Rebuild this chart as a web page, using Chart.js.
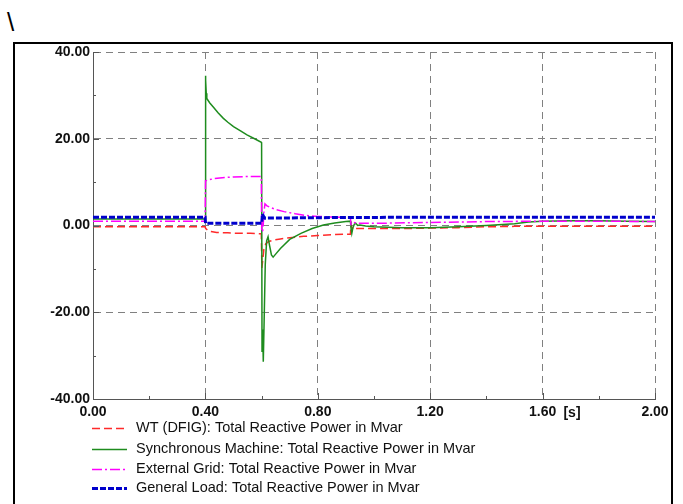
<!DOCTYPE html>
<html><head><meta charset="utf-8">
<script src="https://cdn.jsdelivr.net/npm/chart.js@4.4.1/dist/chart.umd.min.js"></script>
<style>
html,body{margin:0;padding:0;background:#fff;width:683px;height:504px;overflow:hidden;}
#wrap{position:relative;width:683px;height:504px;}
canvas{position:absolute;left:0;top:0;}
#frame{position:absolute;left:13px;top:42px;width:660px;height:480px;border:2px solid #000;box-sizing:border-box;pointer-events:none;}
#slash{position:absolute;left:7px;top:7px;font:26px "Liberation Sans",Arial,sans-serif;color:#000;line-height:30px;}
</style></head><body>
<div id="wrap"><div id="slash">\</div><div id="frame"></div><canvas id="c" width="683" height="504"></canvas></div>
<script>
// ---- data (time in s, reactive power in Mvar) ----
const seriesLabels = [
  "WT (DFIG): Total Reactive Power in Mvar",
  "Synchronous Machine: Total Reactive Power in Mvar",
  "External Grid: Total Reactive Power in Mvar",
  "General Load: Total Reactive Power in Mvar"
];
const xTicks = [0, 0.4, 0.8, 1.2, 1.6, 2.0];
const yTicks = [-40, -20, 0, 20, 40];
const xMinor = [0.2, 0.6, 1.0, 1.4, 1.8];
const yMinor = [-30, -10, 10, 30];
const unitLabel = "[s]";

const wtTime = [0, 0.399, 0.401, 0.405, 0.412, 0.42, 0.44, 0.48, 0.52, 0.56, 0.599, 0.601, 0.604, 0.608, 0.615, 0.625, 0.64, 0.667, 0.70, 0.75, 0.80, 0.85, 0.90, 0.916, 0.918, 0.922, 0.927, 0.935, 0.95, 1.0, 1.1, 1.2, 1.3, 1.4, 1.5, 1.6, 1.8, 2.0];
const wtQ    = [-0.3, -0.3, -0.7, -0.9, -1.2, -1.4, -1.6, -1.7, -1.8, -1.8, -1.9, -9.8, -8.0, -5.5, -4.2, -3.7, -3.4, -3.1, -2.8, -2.5, -2.3, -2.1, -2.0, -2.0, 0.3, -0.8, -0.3, -0.7, -0.7, -0.7, -0.7, -0.6, -0.5, -0.3, -0.2, -0.2, -0.2, -0.2];

const smTime = [0, 0.3995, 0.4, 0.4015, 0.403, 0.405, 0.415, 0.428, 0.445, 0.464, 0.48, 0.50, 0.525, 0.548, 0.575, 0.599, 0.6, 0.6015, 0.603, 0.6045, 0.606, 0.609, 0.613, 0.618, 0.623, 0.628, 0.635, 0.641, 0.65, 0.667, 0.70, 0.74, 0.78, 0.82, 0.86, 0.90, 0.916, 0.918, 0.921, 0.925, 0.93, 0.935, 0.942, 0.95, 0.97, 1.0, 1.1, 1.2, 1.3, 1.4, 1.5, 1.55, 1.6, 1.7, 1.8, 1.9, 2.0];
const smQ    = [1.5, 1.5, 34.5, 33.5, 30.5, 29.3, 28.3, 27.3, 26.0, 24.7, 23.8, 22.8, 21.8, 20.9, 20.0, 19.2, 19.0, -29, -26, -24, -31.4, -22, -9, -3.5, -2.6, -4.5, -6.8, -7.3, -6.6, -5.3, -3.2, -1.8, -0.7, 0.1, 0.6, 0.9, 1.0, -0.5, -1.8, -0.5, 0.3, 0.5, 0.0, 0.1, -0.1, -0.3, -0.5, -0.5, -0.3, 0.0, 0.4, 0.8, 1.0, 1.1, 1.1, 1.0, 0.9];

const egTime = [0, 0.399, 0.4005, 0.41, 0.43, 0.46, 0.50, 0.55, 0.599, 0.6005, 0.605, 0.608, 0.612, 0.618, 0.63, 0.65, 0.68, 0.72, 0.76, 0.80, 0.85, 0.90, 0.916, 0.918, 0.925, 0.94, 1.0, 1.2, 1.4, 1.6, 1.8, 2.0];
const egQ    = [1.0, 1.0, 10.3, 10.5, 10.8, 11.0, 11.2, 11.3, 11.3, -1.5, -1.0, 3.0, 5.0, 4.6, 4.2, 3.7, 3.2, 2.7, 2.3, 2.1, 1.95, 1.85, 1.8, 0.3, 0.8, 0.5, 0.5, 0.7, 0.9, 1.0, 1.0, 0.9];

const glTime = [0, 0.399, 0.4005, 0.599, 0.6005, 0.603, 0.606, 0.612, 0.62, 0.7, 0.9, 1.2, 1.6, 2.0];
const glQ    = [1.9, 1.9, 0.5, 0.5, 0.5, 2.7, 2.2, 1.7, 1.7, 1.75, 1.85, 1.9, 1.9, 1.9];

function pts(t, v) { return t.map((x, i) => ({ x: x, y: v[i] })); }

const FONT = '"Liberation Sans", Arial, sans-serif';
const legendRows = [428, 448.5, 469, 488];

const extras = {
  id: 'extras',
  afterDraw(chart) {
    const ctx = chart.ctx, xs = chart.scales.x, ys = chart.scales.y, a = chart.chartArea;
    ctx.save();
    ctx.strokeStyle = '#555'; ctx.lineWidth = 1; ctx.setLineDash([]);
    ctx.beginPath();
    xMinor.forEach(v => { const px = Math.round(xs.getPixelForValue(v)) + 0.5; ctx.moveTo(px, a.bottom); ctx.lineTo(px, a.bottom - 3); });
    xTicks.forEach(v => { const px = Math.round(xs.getPixelForValue(v)) + 0.5; ctx.moveTo(px, a.bottom); ctx.lineTo(px, a.bottom - 6); });
    yMinor.forEach(v => { const py = Math.round(ys.getPixelForValue(v)) + 0.5; ctx.moveTo(a.left, py); ctx.lineTo(a.left + 3, py); });
    yTicks.forEach(v => { const py = Math.round(ys.getPixelForValue(v)) + 0.5; ctx.moveTo(a.left, py); ctx.lineTo(a.left + 6, py); });
    ctx.stroke();
    ctx.fillStyle = '#111'; ctx.font = 'bold 14px ' + FONT; ctx.textAlign = 'center'; ctx.textBaseline = 'middle';
    ctx.fillText(unitLabel, a.right - 83, 413);
    chart.data.datasets.forEach((ds, i) => {
      const y = legendRows[i];
      ctx.strokeStyle = ds.borderColor; ctx.lineWidth = ds.borderWidth; ctx.setLineDash(ds.borderDash || []);
      ctx.beginPath(); ctx.moveTo(92, Math.round(y) + 0.5); ctx.lineTo(127, Math.round(y) + 0.5); ctx.stroke();
      ctx.setLineDash([]);
      ctx.fillStyle = '#111'; ctx.font = '14.5px ' + FONT; ctx.textAlign = 'left'; ctx.textBaseline = 'middle';
      ctx.fillText(ds.label, 136, y);
    });
    ctx.restore();
  }
};

new Chart(document.getElementById('c'), {
  type: 'line',
  data: {
    datasets: [
      { label: seriesLabels[0], data: pts(wtTime, wtQ), borderColor: '#ff2a2a', borderWidth: 1.5, borderDash: [8, 4], order: 3 },
      { label: seriesLabels[1], data: pts(smTime, smQ), borderColor: '#1e8c1e', borderWidth: 1.5, borderDash: [], order: 2 },
      { label: seriesLabels[2], data: pts(egTime, egQ), borderColor: '#ff00ff', borderWidth: 1.5, borderDash: [10, 3, 2, 3], order: 1 },
      { label: seriesLabels[3], data: pts(glTime, glQ), borderColor: '#0000cc', borderWidth: 3, borderDash: [6, 2], order: 0 }
    ]
  },
  options: {
    responsive: false, animation: false, devicePixelRatio: 1,
    layout: { padding: { top: 52, right: 28, bottom: 0, left: 0 } },
    plugins: { legend: { display: false }, tooltip: { enabled: false } },
    elements: { point: { radius: 0 }, line: { tension: 0, fill: false } },
    scales: {
      x: {
        type: 'linear', min: 0, max: 2,
        afterBuildTicks: s => { s.ticks = xTicks.map(v => ({ value: v })); },
        afterFit: s => { s.height = 105; },
        ticks: { callback: v => Number(v).toFixed(2), font: { family: FONT, size: 14, weight: 'bold' }, color: '#111', padding: 5, maxRotation: 0, autoSkip: false },
        grid: { color: '#808080', lineWidth: 1, drawTicks: false },
        border: { display: true, color: '#555', width: 1, dash: [7, 5] }
      },
      y: {
        type: 'linear', min: -40, max: 40,
        afterBuildTicks: s => { s.ticks = yTicks.map(v => ({ value: v })); },
        afterFit: s => { s.width = 93; },
        ticks: { callback: v => Number(v).toFixed(2), font: { family: FONT, size: 14, weight: 'bold' }, color: '#111', padding: 3, autoSkip: false },
        grid: { color: '#808080', lineWidth: 1, drawTicks: false },
        border: { display: true, color: '#555', width: 1, dash: [7, 5] }
      }
    }
  },
  plugins: [extras]
});
</script>
</body></html>
